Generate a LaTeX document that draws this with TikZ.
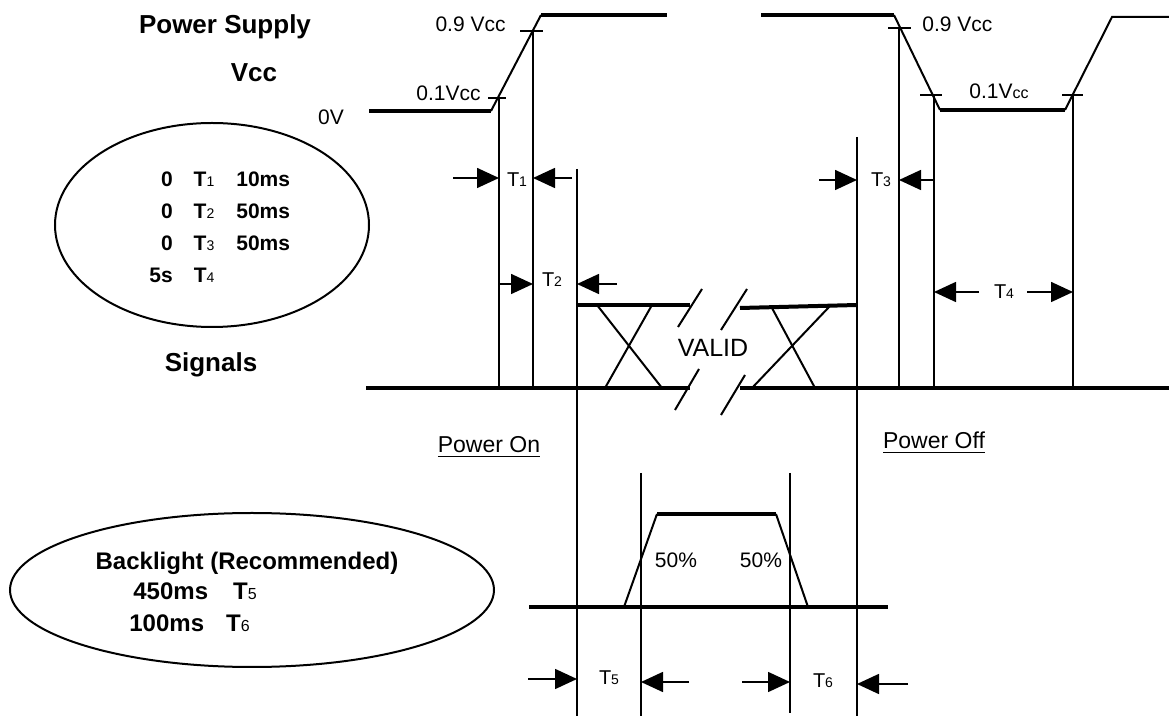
\documentclass[tikz,border=0pt]{standalone}
\usepackage{fontspec}
\setmainfont{Liberation Sans}
\usetikzlibrary{arrows.meta}
\newcommand{\tsub}[2][7]{{\fontsize{#1}{#1}\selectfont #2}}
\tikzset{
  wave/.style={line width=2pt},
  guide/.style={line width=1pt},
  dim/.style={line width=0.8pt,-{Triangle[length=11pt,width=10pt]}},
  head/.style={font=\fontsize{13}{15}\selectfont\bfseries,inner sep=0pt},
  lbl/.style={font=\fontsize{10.5}{12}\selectfont,inner sep=0pt},
  tlbl/.style={font=\fontsize{10}{12}\selectfont,inner sep=0pt,anchor=base},
}
\begin{document}
\begin{tikzpicture}[x=0.5pt,y=-0.5pt]
\useasboundingbox (0,0) rectangle (1169,716);
% headings
\node[head,anchor=base] (psup) at (225,34) {Power Supply};
\node[head,anchor=base] (vcc) at (254,82) {Vcc};
\node[head,anchor=base] (sig) at (211,372) {Signals};
\node[lbl,anchor=base] (zerov) at (331,125) {0V};
% power on ramp
\draw[wave] (369,111) -- (491,111);
\draw[guide] (491,111) -- (541,15);
\draw[wave] (541,15) -- (667,15);
\draw[guide] (520,31) -- (543,31);
\draw[guide] (488,98) -- (506,98);
\draw[guide] (533,31) -- (533,388);
\draw[guide] (499,98) -- (499,388);
\node[lbl,anchor=base east] (nine1) at (506,32) {0.9 Vcc};
\node[lbl,anchor=base east] (one1) at (481,101) {0.1Vcc};
% power off ramp
\draw[wave] (761,15) -- (894,15);
\draw[guide] (894,15) -- (940,110);
\draw[wave] (940,110) -- (1065,110);
\draw[guide] (1065,110) -- (1112,17) -- (1169,17);
\draw[guide] (888,28) -- (911,28);
\draw[guide] (920,95) -- (942,95);
\draw[guide] (1062,95) -- (1083,95);
\draw[guide] (899,28) -- (899,388);
\draw[guide] (934,95) -- (934,388);
\draw[guide] (1073,95) -- (1073,388);
\node[lbl,anchor=base west] (nine2) at (922,32) {0.9 Vcc};
\node[lbl,anchor=base] (one2) at (999,99) {0.1V\tsub[8]{cc}};
% signals
\draw[wave] (366,388) -- (690,388);
\draw[wave] (740,388) -- (1169,388);
\draw[wave] (577,305) -- (690,305);
\draw[wave] (740,308) -- (857,305);
\draw[guide] (597,305) -- (662,388);
\draw[guide] (652,305) -- (605,388);
\draw[guide] (772,308) -- (815,388);
\draw[guide] (830,306) -- (752,388);
\draw[guide] (678,327) -- (702,289);
\draw[guide] (721,330) -- (747,289);
\draw[guide] (675,410) -- (699,369);
\draw[guide] (721,415) -- (745,375);
\node[font=\fontsize{12.5}{14}\selectfont,inner sep=0pt,anchor=base] (valid) at (713,357) {VALID};
\draw[guide] (577,169) -- (577,716);
\draw[guide] (857,137) -- (857,716);
% timing arrows
\draw[dim] (453,178) -- (499,178);
\draw[dim] (572,178) -- (533,178);
\node[tlbl] (t1) at (517,187) {T\tsub{1}};
\draw[dim] (499,284) -- (533,284);
\draw[dim] (617,284) -- (577,284);
\node[tlbl] (t2) at (552,287) {T\tsub{2}};
\draw[dim] (819,180) -- (857,180);
\draw[dim] (934,180) -- (899,180);
\node[tlbl] (t3) at (881,187) {T\tsub{3}};
\draw[dim] (979,292) -- (934,292);
\draw[dim] (1027,292) -- (1073,292);
\node[tlbl] (t4) at (1004,299) {T\tsub{4}};
% limits
\draw[guide] (212,225) ellipse [x radius=157, y radius=102];
\node[font=\fontsize{10.5}{16}\selectfont\bfseries,inner sep=0pt,anchor=base west] (limits) at (149,187)
  {\begin{tabular}[t]{@{}r@{\hspace{10.5pt}}l@{\hspace{11pt}}l@{}}
   0 & T\tsub{\mdseries 1} & 10ms\\
   0 & T\tsub{\mdseries 2} & 50ms\\
   0 & T\tsub{\mdseries 3} & 50ms\\
   5s & T\tsub{\mdseries 4} & \\
   \end{tabular}};
\node[font=\fontsize{11.5}{13}\selectfont,inner sep=0pt,anchor=base] (pon) at (489,453) {\underline{Power On}};
\node[font=\fontsize{11.5}{13}\selectfont,inner sep=0pt,anchor=base] (poff) at (934,449) {\underline{Power Off}};
% backlight
\draw[wave] (529,607) -- (888,607);
\draw[guide] (624,607) -- (657,514);
\draw[wave] (657,514) -- (776,514);
\draw[guide] (776,514) -- (808,607);
\draw[guide] (641,473) -- (641,716);
\draw[guide] (790,473) -- (790,713);
\node[lbl,anchor=base] (half1) at (676,568) {50\%};
\node[lbl,anchor=base] (half2) at (761,568) {50\%};
\draw[dim] (528,679) -- (577,679);
\draw[dim] (689,682) -- (641,682);
\node[tlbl] (t5) at (609,685) {T\tsub{5}};
\draw[dim] (742,682) -- (790,682);
\draw[dim] (908,684) -- (857,684);
\node[tlbl] (t6) at (823,688) {T\tsub{6}};
\draw[guide] (252,590) ellipse [x radius=242, y radius=77];
\node[font=\fontsize{12}{14}\selectfont\bfseries,inner sep=0pt,anchor=base] (bl) at (247,570) {Backlight (Recommended)};
\node[font=\fontsize{12}{14}\selectfont\bfseries,inner sep=0pt,anchor=base west] (bl5) at (133,600) {450ms\hspace{12.5pt}T\tsub[8]{\mdseries 5}};
\node[font=\fontsize{12}{14}\selectfont\bfseries,inner sep=0pt,anchor=base west] (bl6) at (129,632) {100ms\hspace{11pt}T\tsub[8]{\mdseries 6}};
\end{tikzpicture}
\end{document}
